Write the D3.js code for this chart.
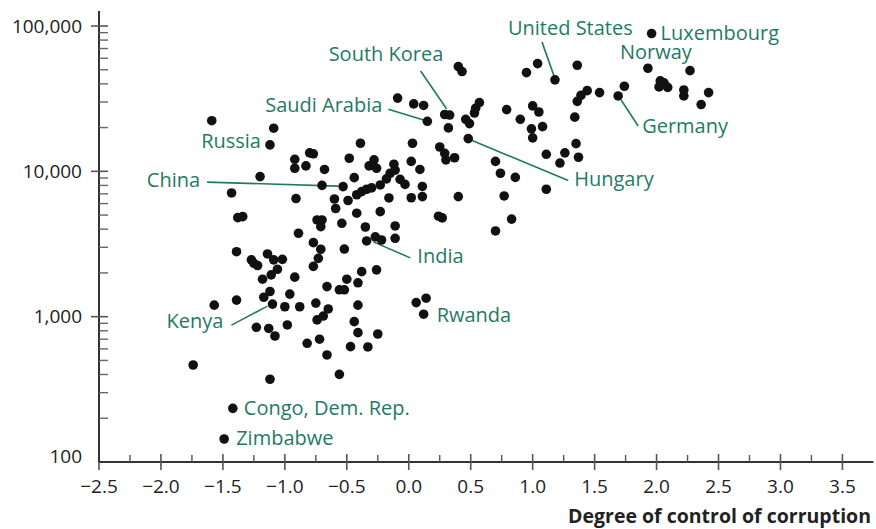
<!DOCTYPE html>
<html>
<head>
<meta charset="utf-8">
<script src="https://cdn.jsdelivr.net/npm/d3@7"></script>
<style>
  body { margin: 0; background: #fff; }
  text { font-family: "Open Sans", sans-serif; }
</style>
</head>
<body>
<script>
// Labelled countries: control of corruption index vs GDP per capita
const labeledNames = ["United States", "Luxembourg", "Norway", "Germany", "Hungary", "South Korea",
  "Saudi Arabia", "Russia", "China", "India", "Rwanda", "Kenya", "Congo, Dem. Rep.", "Zimbabwe"];
const labeledControl = [1.18, 1.96, 1.93, 1.69, 0.48, 0.33, 0.15, -1.12, -0.53, -0.27, 0.12, -1.10, -1.42, -1.49];
const labeledGdp = [42600, 88700, 51200, 33000, 16800, 24400, 22100, 15200, 7850, 3540, 1040, 1220, 234, 144];

// All the other countries
const otherControl = [
  -1.59, -1.09, -0.80, -0.77, -0.92, -0.92, -0.83, -0.68, -0.48, -1.20,
  -1.43, -0.70, -0.44, -0.91, -0.60, -0.49, -0.59, -0.42, -0.42, -1.38,
  -1.34, -0.74, -0.70, -0.71, -0.54, -0.89, -1.39, -1.27, -1.25, -1.22,
  -1.14, -1.09, -1.02, -1.06, -1.11, -1.18, -0.92, -0.77, -0.71, -0.73,
  -0.77, -0.52, -0.66, -0.50, -0.56, -0.52, -0.41, -1.57, -1.39, -1.17,
  -1.12, -0.96, -1.00, -0.88, -0.75, -0.65, -0.69, -0.74, -0.41, -1.23,
  -1.13, -1.08, -0.98, -0.82, -0.72, -0.66, -0.47, -0.44, -0.41, -1.74,
  -1.12, -0.56, -0.33, -0.25, -0.38, -0.26, 0.06, 0.14, -0.39, 0.03,
  -0.32, -0.28, -0.26, -0.12, -0.11, -0.15, 0.02, 0.09, -0.38, -0.34,
  -0.30, -0.23, -0.18, -0.07, -0.03, 0.11, -0.16, 0.02, 0.11, -0.23,
  -0.35, -0.11, -0.11, -0.34, -0.22, 0.24, 0.27, 0.40, 0.40, 0.43,
  -0.09, 0.04, 0.12, 0.29, 0.32, 0.46, 0.49, 0.53, 0.54, 0.57,
  0.25, 0.29, 0.30, 0.37, 0.70, 0.74, 0.86, 0.77, 0.83, 0.70,
  0.95, 1.04, 1.36, 0.79, 0.90, 1.00, 1.05, 0.99, 1.08, 1.00,
  1.11, 1.22, 1.26, 1.11, 1.44, 1.39, 1.36, 1.54, 1.34, 1.35,
  1.37, 1.74, 2.03, 2.06, 2.02, 2.09, 2.22, 2.22, 2.42, 2.36, 2.27
];
const otherGdp = [
  22300, 19800, 13400, 13200, 12100, 10500, 10900, 10300, 12300, 9200,
  7100, 8000, 9050, 6500, 6450, 6300, 5550, 6900, 5150, 4800,
  4880, 4630, 4630, 4160, 4390, 3750, 2800, 2460, 2330, 2250,
  2700, 2460, 2480, 2120, 1940, 1810, 1870, 3230, 2910, 2520,
  2220, 2920, 1610, 1810, 1530, 1530, 1710, 1200, 1300, 1360,
  1490, 1430, 1170, 1170, 1240, 1130, 1010, 950, 1200, 845,
  830, 736, 877, 656, 700, 545, 622, 924, 776, 465,
  371, 401, 619, 760, 2040, 2100, 1250, 1340, 15600, 15600,
  10900, 12000, 10500, 11200, 10200, 9700, 11700, 10300, 7250, 7530,
  7690, 8060, 8870, 8800, 8130, 7870, 6560, 6580, 6700, 5280,
  4140, 4210, 3460, 3320, 3370, 4910, 4780, 6700, 52500, 48600,
  31900, 29100, 28400, 24600, 19900, 22800, 21300, 25200, 27200, 29700,
  14700, 13300, 12000, 12400, 11700, 9700, 9080, 6770, 4690, 3890,
  47800, 55100, 53700, 26600, 22800, 28200, 25600, 19600, 20300, 17000,
  13100, 11400, 13400, 7530, 35900, 33300, 30300, 34800, 23600, 15500,
  12500, 38500, 41900, 40600, 38100, 37800, 36300, 33000, 34800, 28800, 49300
];

const xTicks = [-2.5, -2.0, -1.5, -1.0, -0.5, 0.0, 0.5, 1.0, 1.5, 2.0, 2.5, 3.0, 3.5];
const xMinorTicks = [-2.25, -1.75, -1.25, -0.75, -0.25, 0.25, 0.75, 1.25, 1.75, 2.25, 2.75, 3.25];
const yTicks = [100, 1000, 10000, 100000];
const xTitle = "Degree of control of corruption";

// label placement, offsets in pixels from the dot
const annotations = [
  { name: "United States", anchor: "start", dx: -47, dy: -45, line: [-13, -38, -1, -4] },
  { name: "Luxembourg", anchor: "start", dx: 9, dy: 6 },
  { name: "Norway", anchor: "start", dx: -28, dy: -9 },
  { name: "Germany", anchor: "start", dx: 24, dy: 37, line: [3, 4, 20, 30] },
  { name: "Hungary", anchor: "start", dx: 106, dy: 47, line: [4, 2, 100, 42] },
  { name: "South Korea", anchor: "start", dx: -121, dy: -54, line: [-29, -44, -3, -6] },
  { name: "Saudi Arabia", anchor: "end", dx: -45, dy: -9, line: [-39, -12, -3, -1] },
  { name: "Russia", anchor: "end", dx: -9, dy: 3 },
  { name: "China", anchor: "end", dx: -143, dy: 0, line: [-136, -4.5, -5, -0.5] },
  { name: "India", anchor: "start", dx: 42, dy: 26, line: [35, 21, -2, 5] },
  { name: "Rwanda", anchor: "start", dx: 13, dy: 8 },
  { name: "Kenya", anchor: "end", dx: -49, dy: 24, line: [-41, 21, -5, 2] },
  { name: "Congo, Dem. Rep.", anchor: "start", dx: 11, dy: 7 },
  { name: "Zimbabwe", anchor: "start", dx: 12, dy: 6 }
];

const width = 876, height = 529;
const teal = "#1f7a64";
const ink = "#222";

const points = otherControl.map((c, i) => ({ x: c, y: otherGdp[i] }))
  .concat(labeledControl.map((c, i) => ({ x: c, y: labeledGdp[i], name: labeledNames[i] })));

const x = d3.scaleLinear().domain([-2.5, 3.75]).range([99, 873.4]);
const y = d3.scaleLog().domain([100, 100000]).range([462, 26]);

const svg = d3.select("body").append("svg")
  .attr("width", width)
  .attr("height", height);

// x axis
const xAxis = svg.append("g").attr("class", "x-axis");
xAxis.append("line")
  .attr("x1", x(-2.5)).attr("x2", x(3.75))
  .attr("y1", y(100)).attr("y2", y(100))
  .attr("stroke", "#333").attr("stroke-width", 2);
xAxis.selectAll("line.major").data(xTicks).enter().append("line")
  .attr("class", "major")
  .attr("x1", d => x(d)).attr("x2", d => x(d))
  .attr("y1", y(100) - 8).attr("y2", y(100) + 8)
  .attr("stroke", "#555").attr("stroke-width", 1.6);
xAxis.selectAll("line.minor").data(xMinorTicks).enter().append("line")
  .attr("class", "minor")
  .attr("x1", d => x(d)).attr("x2", d => x(d))
  .attr("y1", y(100) - 7).attr("y2", y(100))
  .attr("stroke", "#555").attr("stroke-width", 1.4);
xAxis.selectAll("text").data(xTicks).enter().append("text")
  .attr("x", d => x(d))
  .attr("y", y(100) + 31)
  .attr("text-anchor", "middle")
  .attr("fill", ink)
  .style("font-size", "19px")
  .text(d => d3.format(".1f")(d));

svg.append("text")
  .attr("x", 871)
  .attr("y", 523)
  .attr("text-anchor", "end")
  .attr("fill", ink)
  .style("font-size", "19.5px")
  .style("font-weight", "bold")
  .text(xTitle);

// y axis
const yAxis = svg.append("g").attr("class", "y-axis");
yAxis.append("line")
  .attr("x1", x(-2.5)).attr("x2", x(-2.5))
  .attr("y1", y(100)).attr("y2", 11)
  .attr("stroke", "#333").attr("stroke-width", 2);
const yMinor = [];
yTicks.slice(0, -1).forEach(t => { for (let k = 2; k <= 9; k++) yMinor.push(t * k); });
yAxis.selectAll("line.major").data(yTicks.slice(1)).enter().append("line")
  .attr("class", "major")
  .attr("x1", x(-2.5) - 8).attr("x2", x(-2.5) + 9)
  .attr("y1", d => y(d)).attr("y2", d => y(d))
  .attr("stroke", "#555").attr("stroke-width", 1.6);
yAxis.selectAll("line.minor").data(yMinor).enter().append("line")
  .attr("class", "minor")
  .attr("x1", x(-2.5)).attr("x2", x(-2.5) + 9)
  .attr("y1", d => y(d)).attr("y2", d => y(d))
  .attr("stroke", "#666").attr("stroke-width", 1.4);
yAxis.selectAll("text").data(yTicks).enter().append("text")
  .attr("x", 82)
  .attr("y", d => y(d) + (d === 100 ? -6 : 0))
  .attr("dy", "0.35em")
  .attr("text-anchor", "end")
  .attr("fill", ink)
  .style("font-size", "19px")
  .text(d => d3.format(",")(d));

// leader lines
const byName = {};
points.forEach(p => { if (p.name) byName[p.name] = p; });

svg.append("g").selectAll("line").data(annotations.filter(a => a.line)).enter().append("line")
  .attr("x1", a => x(byName[a.name].x) + a.line[0])
  .attr("y1", a => y(byName[a.name].y) + a.line[1])
  .attr("x2", a => x(byName[a.name].x) + a.line[2])
  .attr("y2", a => y(byName[a.name].y) + a.line[3])
  .attr("stroke", teal)
  .attr("stroke-width", 1.6);

// dots
svg.append("g").selectAll("circle").data(points).enter().append("circle")
  .attr("cx", d => x(d.x))
  .attr("cy", d => y(d.y))
  .attr("r", 4.8)
  .attr("fill", "#111");

// country labels
svg.append("g").selectAll("text").data(annotations).enter().append("text")
  .attr("x", a => x(byName[a.name].x) + a.dx)
  .attr("y", a => y(byName[a.name].y) + a.dy)
  .attr("text-anchor", a => a.anchor)
  .attr("fill", teal)
  .style("font-size", "20px")
  .text(a => a.name);
</script>
</body>
</html>
